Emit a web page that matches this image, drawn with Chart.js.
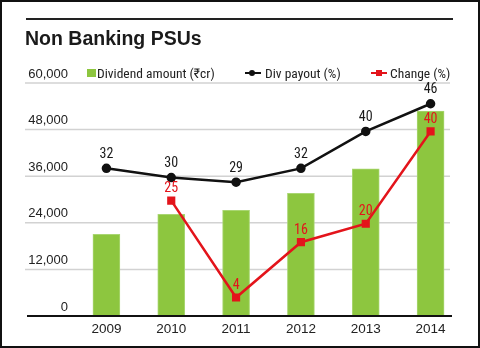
<!DOCTYPE html>
<html>
<head>
<meta charset="utf-8">
<script src="https://cdn.jsdelivr.net/npm/chart.js@4"></script>
<style>
    html, body { margin: 0; padding: 0; background: #fff; }
    .frame {
        position: relative;
        width: 480px;
        height: 348px;
        border: 2px solid #111;
        box-sizing: border-box;
        overflow: hidden;
    }
    canvas { position: absolute; left: -2px; top: -2px; }
    .rule {
        position: absolute; left: 24px; top: 16px;
        width: 427px; height: 2px; background: #222;
    }
    .title {
        position: absolute; left: 23px; top: 25px;
        font: bold 19.5px 'Liberation Sans', Arial, sans-serif;
        color: #1a1a1a;
    }
    .legend {
        position: absolute; top: 63px;
        font: 13.5px 'Roboto Condensed', 'DejaVu Sans Condensed', sans-serif;
        color: #222; white-space: nowrap;
    }
    .mk { position: absolute; }
</style>
</head>
<body>
<div class="frame">
    <canvas id="chart" width="480" height="348"></canvas>
    <div class="rule"></div>
    <div class="title">Non Banking PSUs</div>
    <div class="mk" style="left:85px;top:67px;width:9px;height:8px;background:#8dc63f"></div>
    <div class="legend" style="left:95px">Dividend amount (₹cr)</div>
    <div class="mk" style="left:243px;top:70px;width:16px;height:2px;background:#111"></div>
    <div class="mk" style="left:247px;top:68px;width:6px;height:6px;border-radius:3px;background:#111"></div>
    <div class="legend" style="left:263px">Div payout (%)</div>
    <div class="mk" style="left:369px;top:70px;width:16px;height:2px;background:#e3141b"></div>
    <div class="mk" style="left:374px;top:68px;width:6px;height:6px;background:#e3141b"></div>
    <div class="legend" style="left:388px">Change (%)</div>
</div>
<script>
// Chart data
const years = ['2009', '2010', '2011', '2012', '2013', '2014'];
const dividendAmount = [21000, 26200, 27200, 31600, 37900, 52800];
const divPayout = [32, 30, 29, 32, 40, 46];
const changePct = [null, 25, 4, 16, 20, 40];
const amountTicks = [0, 12000, 24000, 36000, 48000, 60000];

const GREEN = '#8dc63f';
const RED = '#e3141b';
const NUM_FONT = "'Liberation Sans', Arial, sans-serif";
const LABEL_FONT = "'Roboto Condensed', 'Liberation Sans', sans-serif";

// Gridlines run wider than the plot, so draw them from the y scale
const gridPlugin = {
    id: 'wideGrid',
    beforeDatasetsDraw(chart) {
        const ctx = chart.ctx;
        const y = chart.scales.y;
        ctx.save();
        ctx.strokeStyle = '#d2d2d2';
        ctx.lineWidth = 1.5;
        amountTicks.forEach(v => {
            if (v === 0) return;
            const py = y.getPixelForValue(v);
            ctx.beginPath();
            ctx.moveTo(25, py);
            ctx.lineTo(450, py);
            ctx.stroke();
        });
        ctx.restore();
    },
    afterDatasetsDraw(chart) {
        const ctx = chart.ctx;
        const py = chart.scales.y.getPixelForValue(0);
        ctx.save();
        ctx.strokeStyle = '#111';
        ctx.lineWidth = 2;
        ctx.beginPath();
        ctx.moveTo(27, py);
        ctx.lineTo(452, py);
        ctx.stroke();

        // value labels above the line points
        ctx.font = '14px ' + LABEL_FONT;
        ctx.textAlign = 'center';
        ctx.textBaseline = 'middle';
        [[1, divPayout, '#1a1a1a', 14], [2, changePct, RED, 12]].forEach(([idx, vals, color, off]) => {
            const meta = chart.getDatasetMeta(idx);
            ctx.fillStyle = color;
            meta.data.forEach((pt, i) => {
                if (vals[i] == null) return;
                ctx.fillText(String(vals[i]), pt.x, pt.y - off);
            });
        });
        ctx.restore();
    }
};

const ctx = document.getElementById('chart').getContext('2d');
const chart = new Chart(ctx, {
    type: 'bar',
    data: {
        labels: years,
        datasets: [{
            label: 'Dividend amount (₹cr)',
            data: dividendAmount,
            backgroundColor: GREEN,
            borderColor: '#a9d672',
            borderWidth: 1,
            barThickness: 27,
            yAxisID: 'y',
            order: 3
        }, {
            type: 'line',
            label: 'Div payout (%)',
            data: divPayout,
            borderColor: '#111',
            backgroundColor: '#111',
            borderWidth: 2.5,
            pointRadius: 3.5,
            pointStyle: 'circle',
            tension: 0,
            yAxisID: 'y1',
            order: 2
        }, {
            type: 'line',
            label: 'Change (%)',
            data: changePct,
            borderColor: RED,
            backgroundColor: RED,
            borderWidth: 2.5,
            pointRadius: 4,
            pointStyle: 'rect',
            tension: 0,
            yAxisID: 'y1',
            order: 1
        }]
    },
    options: {
        responsive: false,
        devicePixelRatio: 1,
        animation: false,
        layout: {
            padding: { top: 83, right: 17, bottom: 0, left: 0 }
        },
        plugins: {
            legend: { display: false },
            tooltip: { enabled: false }
        },
        scales: {
            x: {
                offset: true,
                grid: { display: false, drawTicks: false },
                border: { display: false },
                ticks: {
                    color: '#222',
                    padding: 5,
                    font: { family: NUM_FONT, size: 13.5 }
                },
                afterFit: scale => { scale.height = 32; }
            },
            y: {
                min: 0,
                max: 60000,
                grid: { display: false, drawTicks: false },
                border: { display: false },
                afterBuildTicks: scale => {
                    scale.ticks = amountTicks.map(v => ({ value: v }));
                },
                ticks: {
                    color: '#222',
                    padding: 6,
                    labelOffset: -9,
                    font: { family: NUM_FONT, size: 13 },
                    callback: v => v.toLocaleString('en-US')
                },
                afterFit: scale => { scale.width = 74; }
            },
            y1: {
                display: false,
                min: 0,
                max: 50.5
            }
        }
    },
    plugins: [gridPlugin]
});
</script>
</body>
</html>
